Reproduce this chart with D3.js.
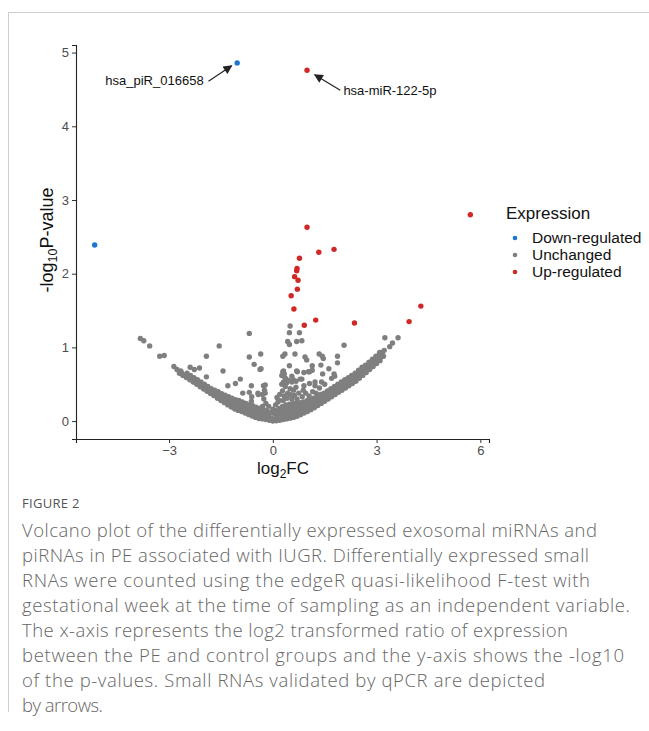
<!DOCTYPE html>
<html>
<head>
<meta charset="utf-8">
<script src="https://cdn.jsdelivr.net/npm/d3@7"></script>
<style>
  body { margin: 0; background: #fff; }
  svg { display: block; }
</style>
</head>
<body>
<script>
// values: [log2FC, -log10 P]
var downRegulated = [[-1.03, 4.86], [-5.15, 2.39]];

var upRegulated = [
  [0.99, 4.76], [5.71, 2.80], [0.99, 2.63], [1.33, 2.29], [1.77, 2.33],
  [0.77, 2.21], [0.70, 2.07], [0.69, 2.04], [0.63, 1.96], [0.73, 1.91],
  [0.71, 1.79], [0.53, 1.70], [0.61, 1.52], [1.24, 1.37], [0.91, 1.30],
  [2.36, 1.33], [3.94, 1.35], [4.28, 1.56]
];

// dense left arm of the volcano
var unchangedLeft = [
  [-0.10,0.01],[-0.13,0.06],[-0.08,0.12],[-0.20,0.02],[-0.23,0.08],[-0.18,0.14],
  [-0.30,0.03],[-0.33,0.09],[-0.28,0.16],[-0.40,0.035],[-0.43,0.10],[-0.38,0.17],
  [-0.50,0.05],[-0.53,0.12],[-0.48,0.19],[-0.60,0.07],[-0.63,0.14],[-0.58,0.21],
  [-0.70,0.09],[-0.73,0.16],[-0.68,0.22],[-0.80,0.11],[-0.83,0.18],[-0.78,0.24],
  [-0.90,0.13],[-0.93,0.20],[-0.88,0.26],[-1.00,0.145],[-1.03,0.21],[-0.98,0.28],
  [-1.10,0.165],[-1.13,0.23],[-1.08,0.29],[-1.20,0.19],[-1.23,0.25],[-1.18,0.31],
  [-1.30,0.22],[-1.33,0.27],[-1.28,0.33],[-1.40,0.25],[-1.43,0.30],[-1.38,0.35],
  [-1.50,0.28],[-1.53,0.32],[-1.48,0.37],[-1.60,0.31],[-1.63,0.35],[-1.58,0.40],
  [-1.70,0.345],[-1.73,0.38],[-1.68,0.42],[-1.80,0.375],[-1.83,0.41],[-1.78,0.44],
  [-1.90,0.405],[-1.93,0.44],[-1.88,0.47],[-2.00,0.435],[-2.03,0.47],[-1.98,0.50],
  [-2.10,0.465],[-2.13,0.50],[-2.08,0.53],[-2.20,0.50],[-2.23,0.53],[-2.18,0.56],
  [-2.30,0.53],[-2.33,0.56],[-2.28,0.59],[-2.40,0.56],[-2.43,0.59],[-2.38,0.62],
  [-2.50,0.59],[-2.53,0.62],[-2.48,0.65],[-2.60,0.62],[-2.63,0.65],
  [-2.70,0.65],[-2.66,0.68]
];
// in-between points that close the left arm
var unchangedLeftFill = [
  [-0.15,0.04],[-0.15,0.10],[-0.25,0.055],[-0.25,0.12],[-0.35,0.06],[-0.35,0.13],
  [-0.45,0.075],[-0.45,0.145],[-0.55,0.095],[-0.55,0.165],[-0.65,0.115],[-0.65,0.18],
  [-0.75,0.135],[-0.75,0.20],[-0.85,0.155],[-0.85,0.22],[-0.95,0.17],[-0.95,0.24],
  [-1.05,0.19],[-1.05,0.25],[-1.15,0.21],[-1.15,0.27],[-1.25,0.23],[-1.25,0.29],
  [-1.35,0.26],[-1.35,0.31],[-1.45,0.29],[-1.45,0.335],[-1.55,0.315],[-1.55,0.36],
  [-1.65,0.35],[-1.65,0.39],[-1.75,0.38],[-1.75,0.41],[-1.85,0.41],[-1.85,0.44],
  [-1.95,0.44],[-1.95,0.47],[-2.05,0.47],[-2.05,0.50],[-2.15,0.50],[-2.25,0.53],
  [-2.35,0.56],[-2.45,0.59],[-2.55,0.62],[-2.65,0.645]
];

// dense right arm of the volcano
var unchangedRight = [
  [0.10,0.005],[0.13,0.07],[0.08,0.14],[0.20,0.01],[0.23,0.09],[0.18,0.17],
  [0.30,0.02],[0.33,0.11],[0.28,0.20],[0.40,0.03],[0.43,0.12],[0.38,0.22],
  [0.50,0.04],[0.53,0.13],[0.48,0.23],[0.60,0.05],[0.63,0.14],[0.58,0.24],
  [0.70,0.065],[0.73,0.15],[0.68,0.24],[0.80,0.085],[0.83,0.17],[0.78,0.25],
  [0.90,0.11],[0.93,0.18],[0.88,0.26],[1.00,0.13],[1.03,0.20],[0.98,0.27],
  [1.10,0.155],[1.13,0.22],[1.08,0.29],[1.20,0.18],[1.23,0.24],[1.18,0.31],
  [1.30,0.21],[1.33,0.27],[1.28,0.33],[1.40,0.24],[1.43,0.30],[1.38,0.36],
  [1.50,0.27],[1.53,0.33],[1.48,0.38],[1.60,0.30],[1.63,0.36],[1.58,0.41],
  [1.70,0.33],[1.73,0.39],[1.68,0.44],[1.80,0.36],[1.83,0.42],[1.78,0.47],
  [1.90,0.39],[1.93,0.45],[1.88,0.50],[2.00,0.42],[2.03,0.48],[1.98,0.53],
  [2.10,0.45],[2.13,0.51],[2.08,0.56],[2.20,0.48],[2.23,0.54],[2.18,0.59],
  [2.30,0.51],[2.33,0.57],[2.28,0.62],[2.40,0.54],[2.43,0.60],[2.38,0.65],
  [2.50,0.58],[2.53,0.64],[2.48,0.69],[2.60,0.62],[2.63,0.67],[2.58,0.73],
  [2.70,0.66],[2.73,0.71],[2.68,0.76],[2.80,0.70],[2.83,0.75],[2.78,0.80],
  [2.90,0.74],[2.93,0.79],[2.88,0.84],[3.00,0.78],[3.03,0.83],[2.98,0.88],
  [3.10,0.82],[3.13,0.87],[3.08,0.91],[3.20,0.88],[3.17,0.93]
];
// in-between points that close the right arm
var unchangedRightFill = [
  [0.15,0.045],[0.15,0.12],[0.25,0.055],[0.25,0.145],[0.35,0.07],[0.35,0.165],
  [0.45,0.08],[0.45,0.175],[0.55,0.09],[0.55,0.185],[0.65,0.10],[0.65,0.19],
  [0.75,0.115],[0.75,0.20],[0.85,0.135],[0.85,0.215],[0.95,0.155],[0.95,0.23],
  [1.05,0.175],[1.05,0.245],[1.15,0.20],[1.15,0.265],[1.25,0.225],[1.25,0.29],
  [1.35,0.255],[1.35,0.315],[1.45,0.285],[1.45,0.34],[1.55,0.315],[1.55,0.37],
  [1.65,0.345],[1.65,0.40],[1.75,0.375],[1.75,0.43],[1.85,0.405],[1.85,0.46],
  [1.95,0.435],[1.95,0.49],[2.05,0.465],[2.05,0.52],[2.15,0.495],[2.15,0.55],
  [2.25,0.525],[2.25,0.58],[2.35,0.555],[2.35,0.61],[2.45,0.59],[2.45,0.645],
  [2.55,0.63],[2.55,0.68],[2.65,0.665],[2.65,0.72],[2.75,0.705],[2.75,0.755],
  [2.85,0.745],[2.85,0.795],[2.95,0.785],[2.95,0.835],[3.05,0.825],[3.05,0.87]
];

// filled middle near the vertex
var unchangedCenter = [
  [0.00,0.00],[0.03,0.03],[-0.04,0.04],[0.05,0.10],[-0.06,0.11],[0.00,0.16],
  [0.08,0.22],[-0.12,0.20],[0.15,0.26],[0.12,0.32],[0.20,0.36],[0.18,0.28],
  [-0.20,0.24],[-0.26,0.30],[-0.30,0.36],[-0.24,0.42],[-0.30,0.20],
  [0.30,0.28],[0.33,0.34],[0.28,0.41],[0.36,0.47],[0.31,0.53],[0.37,0.58],
  [0.33,0.64],[0.41,0.31],[0.43,0.38],[0.26,0.50],[0.40,0.52],[0.30,0.62],
  [0.55,0.30],[0.62,0.35],[0.70,0.30],[0.75,0.38],[0.85,0.33],[0.95,0.38],
  [1.05,0.34],[1.15,0.40],[1.25,0.38],[0.60,0.42],[0.88,0.42],[1.35,0.45],
  [1.50,0.50],[1.00,0.28],[1.20,0.30],[0.50,0.36]
];

// loose points above the arms
var unchangedScatter = [
  [-3.83,1.12],[-3.73,1.09],[-3.56,1.02],[-3.27,0.88],[-3.14,0.89],[-2.86,0.74],
  [-2.77,0.70],[-2.39,0.73],[-2.27,0.70],[-2.12,0.72],[-1.92,0.88],[-1.92,0.60],
  [-1.55,1.02],[-1.44,0.68],[-1.30,0.48],[-1.08,0.51],[-0.94,0.57],[-0.87,0.38],
  [-0.68,1.19],[-0.68,0.87],[-0.68,0.39],[-0.62,0.48],[-0.61,0.33],[-0.62,0.27],
  [-0.54,0.77],[-0.43,0.38],[-0.42,0.36],[-0.37,0.70],[-0.35,0.91],[-0.34,0.71],
  [-0.27,0.48],[-0.22,0.49],[-0.22,0.38],
  [0.50,1.29],[0.48,1.20],[0.77,1.20],[0.84,1.09],[0.43,1.08],[0.48,1.04],
  [0.69,1.08],[0.35,0.91],[0.64,0.91],[0.29,0.88],[0.93,0.87],[0.98,0.83],
  [1.34,0.91],[1.43,0.88],[1.46,0.85],[1.87,0.88],[1.87,0.79],[2.06,1.03],
  [0.48,0.75],[0.31,0.68],[0.26,0.62],[0.69,0.68],[0.90,0.66],[1.03,0.67],
  [1.14,0.69],[1.14,0.75],[1.06,0.67],[1.39,0.76],[1.62,0.71],[1.44,0.64],
  [1.77,0.64],[1.79,0.61],[0.45,0.55],[0.59,0.56],[0.79,0.57],[0.84,0.57],
  [0.67,0.54],[0.55,0.53],[0.55,0.61],[0.71,0.67],[0.29,0.67],[0.31,0.61],
  [0.50,0.44],[0.67,0.46],[0.90,0.48],[1.06,0.51],[1.22,0.48],[1.22,0.53],
  [1.41,0.53],[1.70,0.58],[1.75,0.44],[1.94,0.42],
  [3.24,1.13],[3.46,1.06],[3.38,1.01],[3.62,1.13],[3.22,0.96],[3.09,0.93]
];

var legendLabels = ['Down-regulated', 'Unchanged', 'Up-regulated'];
var legendColors = ['#1a76cf', '#7f7f7f', '#d02727'];
var xTicks = [-3, 0, 3, 6];
var yTicks = [0, 1, 2, 3, 4, 5];

var captionLines = [
  'Volcano plot of the differentially expressed exosomal miRNAs and',
  'piRNAs in PE associated with IUGR. Differentially expressed small',
  'RNAs were counted using the edgeR quasi-likelihood F-test with',
  'gestational week at the time of sampling as an independent variable.',
  'The x-axis represents the log2 transformed ratio of expression',
  'between the PE and control groups and the y-axis shows the -log10',
  'of the p-values. Small RNAs validated by qPCR are depicted',
  'by arrows.'
];
var captionWidths = [575, 567, 568, 608, 546, 602, 523, 81];

var width = 649, height = 731;
var font = '"Liberation Sans", Arial, Helvetica, sans-serif';

var svg = d3.select('body').append('svg')
  .attr('width', width)
  .attr('height', height);

// page frame
svg.append('line').attr('x1', 8).attr('x2', width).attr('y1', 12.5).attr('y2', 12.5)
  .attr('stroke', '#cfcfcf');
svg.append('line').attr('x1', 8.5).attr('x2', 8.5).attr('y1', 12).attr('y2', 712)
  .attr('stroke', '#cfcfcf');

var xScale = d3.scaleLinear().domain([-5.69, 6.25]).range([76, 489]);
var yScale = d3.scaleLinear().domain([-0.243, 5.103]).range([439, 45]);

var xAxis = d3.axisBottom(xScale).tickValues(xTicks).tickSize(4).tickPadding(3)
  .tickFormat(d3.format('d'));
var yAxis = d3.axisLeft(yScale).tickValues(yTicks).tickSize(4).tickPadding(3)
  .tickFormat(d3.format('d'));

var gx = svg.append('g').attr('transform', 'translate(0,439)').call(xAxis);
var gy = svg.append('g').attr('transform', 'translate(76,0)').call(yAxis);
[gx, gy].forEach(function(g) {
  g.attr('font-family', font).attr('font-size', 13);
  g.select('.domain').attr('stroke', '#222').attr('stroke-width', 1.1);
  g.selectAll('.tick line').attr('stroke', '#333');
  g.selectAll('.tick text').attr('fill', '#4d4d4d');
});

// points
var unchanged = unchangedLeft.concat(unchangedLeftFill, unchangedRight, unchangedRightFill,
  unchangedCenter, unchangedScatter);
var groups = [
  { data: unchanged, color: legendColors[1] },
  { data: downRegulated, color: legendColors[0] },
  { data: upRegulated, color: legendColors[2] }
];
groups.forEach(function(grp) {
  svg.append('g').selectAll('circle')
    .data(grp.data)
    .enter()
    .append('circle')
    .attr('cx', function(d) { return xScale(d[0]); })
    .attr('cy', function(d) { return yScale(d[1]); })
    .attr('r', 2.7)
    .attr('fill', grp.color);
});

// axis titles
var xt = svg.append('text')
  .attr('x', 283).attr('y', 474)
  .attr('text-anchor', 'middle')
  .attr('font-family', font).attr('font-size', 17).attr('fill', '#111');
xt.append('tspan').text('log');
xt.append('tspan').attr('font-size', 12).attr('dy', 4).text('2');
xt.append('tspan').attr('dy', -4).text('FC');

var yt = svg.append('text')
  .attr('transform', 'translate(53,240) rotate(-90)')
  .attr('text-anchor', 'middle')
  .attr('font-family', font).attr('font-size', 18).attr('fill', '#111');
yt.append('tspan').text('-log');
yt.append('tspan').attr('font-size', 12.5).attr('dy', 4).text('10');
yt.append('tspan').attr('dy', -4).text('P-value');

// arrows to validated RNAs
svg.append('defs').append('marker')
  .attr('id', 'head')
  .attr('viewBox', '0 0 10 10')
  .attr('refX', 9).attr('refY', 5)
  .attr('markerWidth', 12).attr('markerHeight', 9)
  .attr('markerUnits', 'userSpaceOnUse')
  .attr('orient', 'auto')
  .append('path').attr('d', 'M0,0 L10,5 L0,10 z').attr('fill', '#222');

var notes = [
  { label: 'hsa_piR_016658', from: [-1.86, 4.61], to: [-1.19, 4.82], tx: -2.0, ty: 4.62, anchor: 'end' },
  { label: 'hsa-miR-122-5p', from: [1.95, 4.49], to: [1.21, 4.70], tx: 2.04, ty: 4.48, anchor: 'start' }
];
notes.forEach(function(n) {
  svg.append('line')
    .attr('x1', xScale(n.from[0])).attr('y1', yScale(n.from[1]))
    .attr('x2', xScale(n.to[0])).attr('y2', yScale(n.to[1]))
    .attr('stroke', '#222').attr('stroke-width', 1.2)
    .attr('marker-end', 'url(#head)');
  svg.append('text')
    .attr('x', xScale(n.tx)).attr('y', yScale(n.ty))
    .attr('dy', '0.35em')
    .attr('text-anchor', n.anchor)
    .attr('font-family', font).attr('font-size', 13).attr('fill', '#111')
    .text(n.label);
});

// legend
var legend = svg.append('g').attr('transform', 'translate(506,0)');
legend.append('text')
  .attr('x', 0).attr('y', 219)
  .attr('font-family', font).attr('font-size', 17).attr('fill', '#111')
  .text('Expression');
legendLabels.forEach(function(lab, i) {
  var y = 238 + i * 17;
  legend.append('circle').attr('cx', 9).attr('cy', y).attr('r', 2.3).attr('fill', legendColors[i]);
  legend.append('text')
    .attr('x', 26).attr('y', y).attr('dy', '0.35em')
    .attr('font-family', font).attr('font-size', 15.5).attr('fill', '#111')
    .text(lab);
});

// caption
svg.append('text')
  .attr('x', 22).attr('y', 508)
  .attr('font-family', '"Open Sans", sans-serif').attr('font-size', 13)
  .attr('letter-spacing', 0.3).attr('fill', '#555')
  .text('FIGURE 2');

svg.append('g').selectAll('text')
  .data(captionLines)
  .enter()
  .append('text')
  .attr('x', 22)
  .attr('y', function(d, i) { return 537 + i * 25; })
  .attr('font-family', '"Open Sans", sans-serif')
  .attr('font-size', 18.5)
  .attr('font-weight', 300)
  .attr('fill', '#666')
  .attr('textLength', function(d, i) { return captionWidths[i]; })
  .attr('lengthAdjust', 'spacing')
  .text(function(d) { return d; });
</script>
</body>
</html>
